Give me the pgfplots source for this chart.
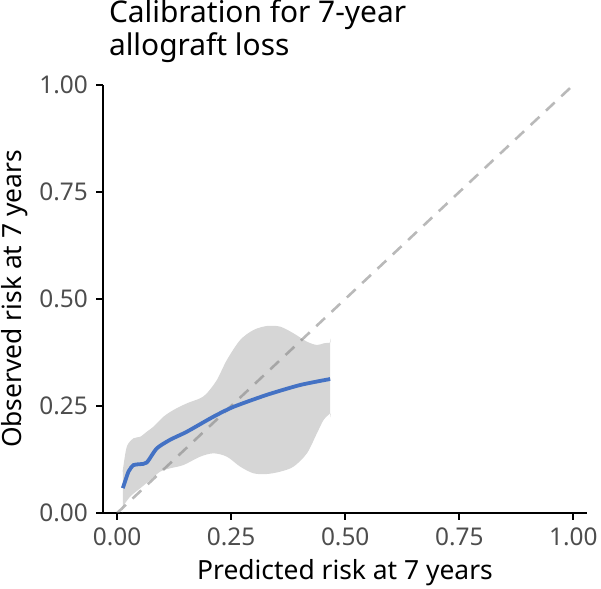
\documentclass[border=0pt]{standalone}
\usepackage{pgfplots}
\pgfplotsset{compat=1.18}
\usepackage{fontspec}
\setmainfont{Noto Sans}

\definecolor{curveblue}{RGB}{68,114,196}
\definecolor{bandgrey}{RGB}{214,214,214}
\definecolor{ticktext}{RGB}{77,77,77}

\begin{document}
\begin{tikzpicture}
\path[use as bounding box] (0,0) rectangle (601bp,589bp);
\begin{axis}[
  at={(103bp,76bp)}, anchor=south west,
  width=484bp, height=428bp, scale only axis,
  xmin=-0.031, xmax=1.03, ymin=0, ymax=1,
  axis lines*=left,
  axis line style={line width=2.2bp, black},
  major tick style={line width=2.2bp, black},
  major tick length=7bp,
  tick align=outside,
  xtick={0,0.25,0.5,0.75,1}, ytick={0,0.25,0.5,0.75,1},
  xticklabels={0.00,0.25,0.50,0.75,1.00},
  yticklabels={0.00,0.25,0.50,0.75,1.00},
  ticklabel style={font=\fontsize{24.5}{26}\selectfont, text=ticktext, inner sep=0pt},
  xticklabel style={yshift=-8bp},
  yticklabel style={xshift=-8bp},
  xlabel={Predicted risk at 7 years},
  ylabel={Observed risk at 7 years},
  label style={font=\fontsize{26.5}{29}\selectfont, inner sep=0pt},
  xlabel style={at={(axis description cs:0.5,-0.1565)}, anchor=base},
  ylabel style={at={(axis description cs:-0.1674,0.5)}, anchor=base},
  title={Calibration for 7-year\\allograft loss},
  title style={at={(axis description cs:0.012,1)}, anchor=north west,
    yshift=80bp, align=left, inner sep=0pt,
    font=\fontsize{30}{34}\selectfont},
  clip=true,
]
% confidence band: upper limit left to right, then lower limit right to left
% (corner points repeated so the vertical ends stay straight)
\addplot[fill=bandgrey, draw=none, smooth, tension=0.5] coordinates {
  (0.0124,0.100) (0.0124,0.100) (0.0212,0.155) (0.0358,0.1745) (0.0504,0.178)
  (0.0651,0.190) (0.0797,0.2017) (0.1016,0.225) (0.1235,0.2407)
  (0.1528,0.2562) (0.182,0.268) (0.1966,0.2796) (0.2186,0.3107)
  (0.2405,0.3575) (0.2697,0.4042) (0.299,0.4276) (0.3282,0.4369)
  (0.3575,0.4354) (0.3867,0.4198) (0.416,0.4003) (0.4379,0.3925)
  (0.4525,0.3964) (0.4671,0.3980) (0.4671,0.3980)
  (0.4671,0.2329) (0.4671,0.2329) (0.4525,0.2173) (0.4379,0.1861) (0.416,0.1394)
  (0.3867,0.1083) (0.3575,0.0966) (0.3282,0.0911) (0.299,0.0927)
  (0.2697,0.1083) (0.2405,0.1316) (0.2113,0.1394) (0.182,0.1316)
  (0.1455,0.1121) (0.1162,0.1044) (0.0943,0.0966) (0.0724,0.0771)
  (0.0504,0.0576) (0.0285,0.0382) (0.0124,0.0148) (0.0124,0.0148)
} \closedcycle;
% reference line of perfect calibration
\addplot[gray, opacity=0.55, line width=2.6bp, dash pattern=on 12bp off 9bp]
  coordinates {(0,0) (1,1)};
% calibration curve
\addplot[curveblue, line width=3.8bp, smooth, tension=0.4] coordinates {
  (0.0125,0.058) (0.025,0.097) (0.036,0.112) (0.050,0.114)
  (0.065,0.118) (0.087,0.151) (0.116,0.171) (0.153,0.190)
  (0.211,0.225) (0.255,0.248) (0.328,0.276) (0.401,0.299)
  (0.467,0.313)
};
\end{axis}
\end{tikzpicture}
\end{document}
